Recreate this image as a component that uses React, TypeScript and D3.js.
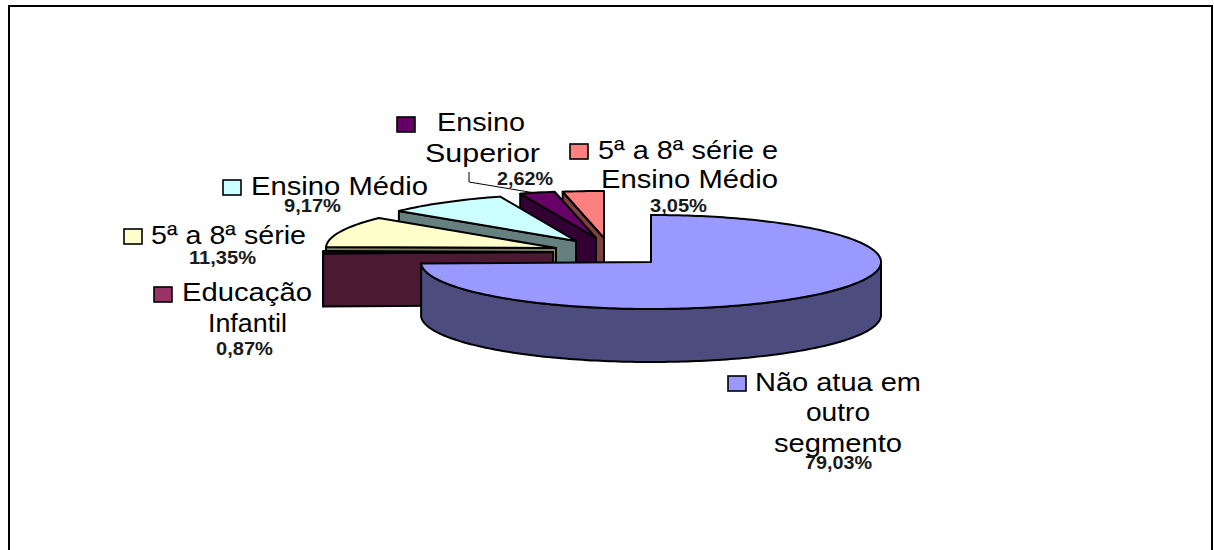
import React from 'react';
import * as d3 from 'd3';

const categories = [
  'Não atua em outro segmento',
  'Educação Infantil',
  '5ª a 8ª série',
  'Ensino Médio',
  'Ensino Superior',
  '5ª a 8ª série e Ensino Médio',
];
const shares = [79.03, 0.87, 11.35, 9.17, 2.62, 3.05];
const shareLabels = ['79,03%', '0,87%', '11,35%', '9,17%', '2,62%', '3,05%'];

const topColors = ['#9999ff', '#993366', '#ffffcc', '#ccffff', '#660066', '#ff8080'];
const wallColors = ['#4c4c7f', '#4c1933', '#7f7f66', '#667f7f', '#330033', '#7f4040'];

// where each slice tip ended up, the picture explodes them unevenly
const tips: [number, number][] = [
  [651, 262],
  [553, 252],
  [556, 248],
  [576, 241],
  [596, 238],
  [604, 238],
];

const rx = 230;
const ry = 47;
const depth = 53;

// one line of text: [text, left, right, baseline]
type Line = [string, number, number, number];
const nameLines: Line[][] = [
  [['Não atua em', 755, 921, 391], ['outro', 806, 870, 421], ['segmento', 774, 902, 452]],
  [['Educação', 182, 312, 301], ['Infantil', 208, 287, 332]],
  [['5ª a 8ª série', 151, 306, 244]],
  [['Ensino Médio', 251, 428, 195]],
  [['Ensino', 437, 525, 131], ['Superior', 425, 540, 162]],
  [['5ª a 8ª série e', 598, 778, 159], ['Ensino Médio', 601, 778, 188]],
];
const shareLines: Line[] = [
  ['', 805, 872, 469],
  ['', 216, 273, 355],
  ['', 189, 256, 264],
  ['', 284, 341, 212],
  ['', 497, 553, 185],
  ['', 650, 707, 212],
];
const keys: [number, number][] = [
  [728, 376],
  [154, 287],
  [124, 229],
  [223, 180],
  [397, 117],
  [570, 144],
];

const pie = d3.pie<number>().sort(null).startAngle(0).endAngle(2 * Math.PI);
const arcs = pie(shares);

const rim = (tip: [number, number], t: number): [number, number] => [
  tip[0] + rx * Math.sin(t),
  tip[1] - ry * Math.cos(t),
];

const sweep = (tip: [number, number], a0: number, a1: number) => {
  const steps = Math.max(2, Math.ceil(Math.abs(a1 - a0) / 0.02));
  return d3.range(steps + 1).map((i) => rim(tip, a0 + ((a1 - a0) * i) / steps));
};

const line = d3.line();
const shift = (pts: [number, number][]) => pts.map(([x, y]) => [x, y + depth] as [number, number]);

const Slice = ({ i }: { i: number }) => {
  const { startAngle, endAngle } = arcs[i];
  const tip = tips[i];
  const start = rim(tip, startAngle);
  const cutWall: [number, number][] = [start, tip, [tip[0], tip[1] + depth], [start[0], start[1] + depth]];

  // outer wall only faces us between 90 and 270 degrees
  const a0 = Math.max(startAngle, Math.PI / 2);
  const a1 = Math.min(endAngle, (3 * Math.PI) / 2);
  const outer = a1 > a0 ? sweep(tip, a0, a1) : null;

  return (
    <g stroke="#000" strokeWidth={2} strokeLinejoin="round">
      <path d={line(cutWall) + 'Z'} fill={wallColors[i]} />
      {outer && <path d={line([...outer, ...shift(outer).reverse()]) + 'Z'} fill={wallColors[i]} />}
      <path d={line([tip, ...sweep(tip, startAngle, endAngle)]) + 'Z'} fill={topColors[i]} />
    </g>
  );
};

const Label = ({ l, bold, text }: { l: Line; bold?: boolean; text: string }) => (
  <text
    x={l[1]}
    y={l[3]}
    fontFamily="'Liberation Sans', Arial, sans-serif"
    fontSize={bold ? 18 : 26}
    fontWeight={bold ? 'bold' : 'normal'}
    fill={bold ? '#1a1a1a' : '#000'}
    textLength={l[2] - l[1]}
    lengthAdjust="spacingAndGlyphs"
  >
    {text}
  </text>
);

export default function App() {
  // painted back to front, last slice first
  const order = d3.range(categories.length).reverse();
  return (
    <svg
      width={1214}
      height={550}
      style={{ position: 'absolute', left: 0, top: 0, background: '#fff' }}
      role="img"
    >
      <rect x={9} y={6} width={1203} height={560} fill="none" stroke="#000" strokeWidth={2} />
      {order.map((i) => (
        <Slice key={categories[i]} i={i} />
      ))}
      <path d="M469,172V182L535,193" fill="none" stroke="#000" strokeWidth={1} />
      {categories.map((c, i) => (
        <g key={c}>
          <rect x={keys[i][0]} y={keys[i][1]} width={18} height={15} fill={topColors[i]} stroke="#000" strokeWidth={1.6} />
          {nameLines[i].map((l) => (
            <Label key={l[0]} l={l} text={l[0]} />
          ))}
          <Label l={shareLines[i]} text={shareLabels[i]} bold />
        </g>
      ))}
    </svg>
  );
}
